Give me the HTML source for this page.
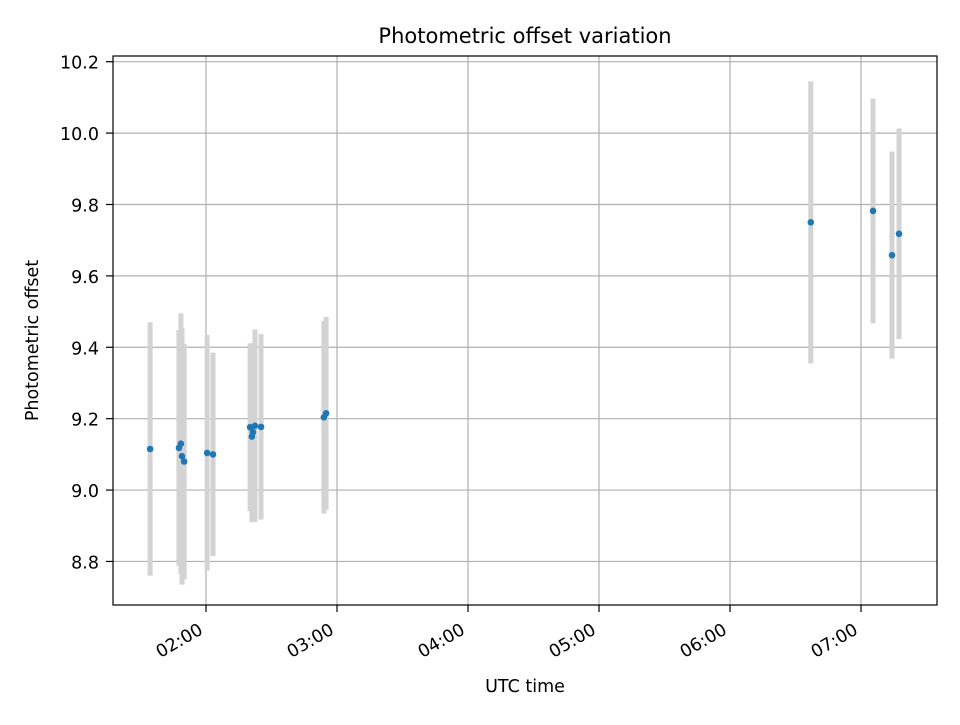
<!DOCTYPE html>
<html><head><meta charset="utf-8"><style>
body{margin:0;background:#fff}
svg{font-family:"DejaVu Sans","Liberation Sans",sans-serif}
</style></head><body>
<svg id="chart" width="960" height="720" xmlns="http://www.w3.org/2000/svg">
<rect width="960" height="720" fill="#fff"/>
<g id="grid"></g><g id="bars"></g><g id="pts"></g><g id="axes"></g>
</svg>
<script>
const times = [94.4,107.6,108.5,109,110,120.5,123.2,140.2,141,141.5,142.4,145.2,174,175,397,425.5,434.2,437.4];
const values = [9.115,9.118,9.13,9.095,9.08,9.104,9.10,9.176,9.15,9.162,9.18,9.177,9.204,9.215,9.75,9.782,9.658,9.718];
const errors = [0.355,0.33,0.365,0.36,0.33,0.33,0.285,0.235,0.24,0.25,0.27,0.26,0.27,0.27,0.395,0.315,0.29,0.295];
const yTicks = [8.8,9.0,9.2,9.4,9.6,9.8,10.0,10.2];
const xTicks = [120,180,240,300,360,420];
const xTickLabels = ["02:00","03:00","04:00","05:00","06:00","07:00"];
const L=113,R=937,T=56,B=605;
const xMin=77.4,xMax=454.8,yMin=8.678,yMax=10.216;
const xs=v=>L+(v-xMin)/(xMax-xMin)*(R-L);
const ys=v=>B-(v-yMin)/(yMax-yMin)*(B-T);
const NS="http://www.w3.org/2000/svg";
function mk(p,tag,a){const e=document.createElementNS(NS,tag);for(const k in a)e.setAttribute(k,a[k]);p.appendChild(e);return e;}
const grid=document.getElementById('grid'),bars=document.getElementById('bars'),pts=document.getElementById('pts'),axes=document.getElementById('axes');
yTicks.forEach(t=>{const y=ys(t);
 const g=mk(grid,'line',{x1:L,x2:R,y1:y,y2:y,stroke:'#b0b0b0','stroke-width':1.2});
 
 
 mk(axes,'line',{x1:L-7,x2:L,y1:y,y2:y,stroke:'#000','stroke-width':1.2});
 const tx=mk(axes,'text',{x:L-14,y:y+7,'text-anchor':'end','font-size':17.5});tx.textContent=t.toFixed(1);
 
 
});
xTicks.forEach((t,i)=>{const x=xs(t);
 const g=mk(grid,'line',{x1:x,x2:x,y1:T,y2:B,stroke:'#b0b0b0','stroke-width':1.2});
 
 
 mk(axes,'line',{x1:x,x2:x,y1:B,y2:B+7,stroke:'#000','stroke-width':1.2});
 const ax=x-2,ay=B+28;
 const tx=mk(axes,'text',{x:ax,y:ay,'text-anchor':'end','font-size':17.5,transform:`rotate(-30 ${ax} ${ay})`});tx.textContent=xTickLabels[i];
 
 
});
times.forEach((t,i)=>{const x=xs(t);
 const b=mk(bars,'line',{x1:x,x2:x,y1:ys(values[i]-errors[i]),y2:ys(values[i]+errors[i]),stroke:'#d3d3d3','stroke-width':5});
 
 
 const c=mk(pts,'circle',{cx:x,cy:ys(values[i]),r:3.3,fill:'#1f77b4'});
 
 
});
const fr=mk(axes,'rect',{x:L,y:T,width:R-L,height:B-T,fill:'none',stroke:'#000','stroke-width':1.2});


const ti=mk(axes,'text',{x:(L+R)/2,y:43,'text-anchor':'middle','font-size':21});ti.textContent='Photometric offset variation';


const xl=mk(axes,'text',{x:(L+R)/2,y:692,'text-anchor':'middle','font-size':17.5});xl.textContent='UTC time';


const yc=(T+B)/2+10;
const yl=mk(axes,'text',{x:38,y:yc,'text-anchor':'middle','font-size':17.5,transform:`rotate(-90 38 ${yc})`});yl.textContent='Photometric offset';


</script>
</body></html>
